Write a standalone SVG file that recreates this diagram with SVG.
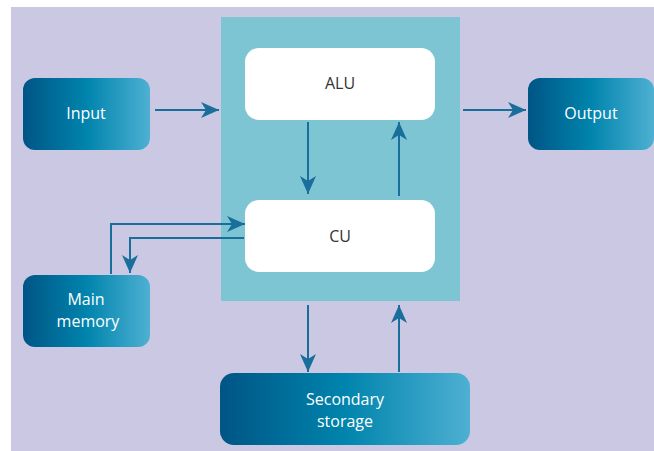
<svg xmlns="http://www.w3.org/2000/svg" width="654" height="451" viewBox="0 0 654 451">
<defs>
<linearGradient id="g" x1="0" y1="0" x2="1" y2="0">
<stop offset="0" stop-color="#005585"/>
<stop offset="0.5" stop-color="#0084ad"/>
<stop offset="1" stop-color="#4eb0d2"/>
</linearGradient>
<marker id="ah" markerUnits="userSpaceOnUse" markerWidth="20" markerHeight="18" refX="18" refY="8" orient="auto" viewBox="0 0 20 16">
<path d="M0,0 L18,8 L0,16 L5,8 z" fill="#1a6e9c"/>
</marker>
<style>
.node{fill:url(#g)}
.wbox{fill:#ffffff}
.lt{font-family:"Open Sans","Liberation Sans",sans-serif;font-size:16px;fill:#ffffff;text-anchor:middle}
.dt{font-family:"Open Sans","Liberation Sans",sans-serif;font-size:16px;fill:#333333;text-anchor:middle}
.c{fill:none;stroke:#1a6e9c;stroke-width:2;marker-end:url(#ah)}
</style>
</defs>
<rect x="0" y="0" width="654" height="451" fill="#ffffff"/>
<rect x="11" y="7" width="643" height="444" fill="#cbc8e3"/>
<g id="cpu"><rect x="221" y="17" width="239" height="284" fill="#7ec5d3"/></g>
<g id="alu"><rect class="wbox" x="245" y="48" width="190" height="72" rx="14"/><text class="dt" x="340" y="89">ALU</text></g>
<g id="cu"><rect class="wbox" x="245" y="200" width="190" height="72" rx="14"/><text class="dt" x="340" y="242">CU</text></g>
<g id="input"><rect class="node" x="23" y="78" width="127" height="72" rx="12"/><text class="lt" x="86" y="119">Input</text></g>
<g id="output"><rect class="node" x="528" y="78" width="126" height="72" rx="12"/><text class="lt" x="591" y="119">Output</text></g>
<g id="mainmemory"><rect class="node" x="23" y="275" width="127" height="72" rx="12"/><text class="lt" x="86" y="305">Main</text><text class="lt" x="88" y="327">memory</text></g>
<g id="secondary"><rect class="node" x="220" y="373" width="250" height="72" rx="14"/><text class="lt" x="345" y="405">Secondary</text><text class="lt" x="345" y="427">storage</text></g>
<g id="connectors">
<path class="c" d="M155,110 H219"/>
<path class="c" d="M463,110 H526"/>
<path class="c" d="M308,122 V194"/>
<path class="c" d="M399,196 V122"/>
<path class="c" d="M111,274 V224 H245"/>
<path class="c" d="M244,238 H130 V273"/>
<path class="c" d="M308,305 V372"/>
<path class="c" d="M399,372 V305"/>
</g>
</svg>
